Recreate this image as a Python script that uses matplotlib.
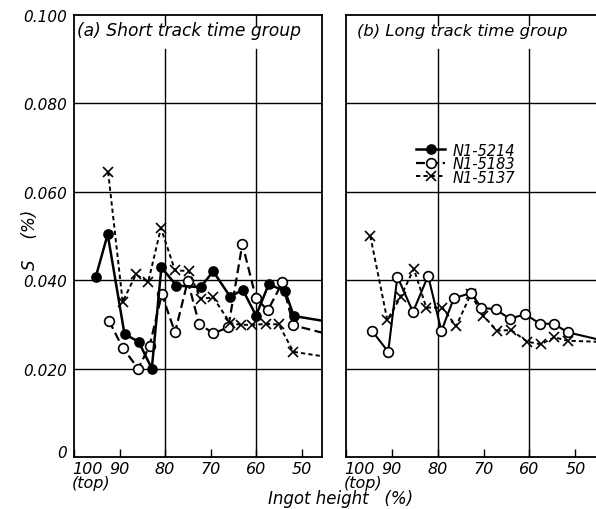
import matplotlib
matplotlib.use("Agg")
import matplotlib.pyplot as plt
from matplotlib.lines import Line2D
from matplotlib.legend_handler import HandlerLine2D
import matplotlib.transforms as mtransforms

# ---------------- data ----------------
# (a) Short track time group
h_a_5214 = [95.2, 92.6, 88.9, 85.8, 82.9, 80.8, 77.5, 72.2, 69.4, 65.7, 62.9, 60.0, 57.2, 53.6, 51.7, 43.5]
s_a_5214 = [0.0408, 0.0504, 0.0278, 0.0261, 0.0200, 0.0429, 0.0388, 0.0384, 0.0420, 0.0363, 0.0378, 0.0320, 0.0391, 0.0375, 0.0319, 0.0305]

h_a_5183 = [92.3, 89.3, 85.9, 83.4, 80.7, 77.8, 75.0, 72.5, 69.4, 66.1, 63.0, 60.0, 57.4, 54.2, 51.8, 43.5]
s_a_5183 = [0.0308, 0.0247, 0.0200, 0.0251, 0.0368, 0.0282, 0.0398, 0.0301, 0.0280, 0.0293, 0.0482, 0.0359, 0.0332, 0.0395, 0.0298, 0.0276]

h_a_5137 = [92.5, 89.3, 86.4, 83.7, 80.9, 77.8, 74.8, 72.2, 69.4, 65.7, 63.3, 60.8, 57.7, 55.0, 51.8, 43.5]
s_a_5137 = [0.0645, 0.0351, 0.0413, 0.0396, 0.0518, 0.0422, 0.0421, 0.0358, 0.0361, 0.0303, 0.0299, 0.0299, 0.0301, 0.0300, 0.0238, 0.0225]

# (b) Long track time group
h_b_5183 = [94.3, 90.8, 88.8, 85.4, 82.1, 79.2, 76.5, 72.8, 70.5, 67.4, 64.3, 60.9, 57.8, 54.7, 51.6, 43.0]
s_b_5183 = [0.0285, 0.0238, 0.0408, 0.0328, 0.0410, 0.0285, 0.0359, 0.0371, 0.0338, 0.0334, 0.0313, 0.0323, 0.0302, 0.0301, 0.0282, 0.0261]

h_b_5137 = [94.7, 91.0, 88.1, 85.2, 82.5, 79.0, 76.0, 72.8, 70.1, 67.1, 64.0, 60.5, 57.5, 54.6, 51.7, 43.0]
s_b_5137 = [0.0500, 0.0310, 0.0362, 0.0426, 0.0338, 0.0338, 0.0296, 0.0368, 0.0320, 0.0286, 0.0287, 0.0261, 0.0255, 0.0271, 0.0263, 0.0260]

series_names = ["N1-5214", "N1-5183", "N1-5137"]
x_ticks = [100, 90, 80, 70, 60, 50]
x_ticklabels = ["100\n(top)", "90", "80", "70", "60", "50"]
y_ticks = [0, 0.02, 0.04, 0.06, 0.08, 0.10]
y_ticklabels = ["0", "0.020", "0.040", "0.060", "0.080", "0.100"]
panel_titles = ["(a) Short track time group", "(b) Long track time group"]

# ---------------- styling ----------------
plt.rcParams['font.family'] = ['DejaVu Sans']
plt.rcParams['font.style'] = 'italic'

fig = plt.figure(figsize=(5.96, 5.10), dpi=100)
W, H = 596, 510
def ax_rect(x0, x1, ytop, ybot):
    return [x0 / W, (H - ybot) / H, (x1 - x0) / W, (ybot - ytop) / H]

axA = fig.add_axes(ax_rect(74, 322, 16, 458))
axB = fig.add_axes(ax_rect(346, 596, 16, 458))

st_5214 = dict(color='black', lw=1.8, ls='-', marker='o', ms=6.5,
               mfc='black', mec='black', mew=1.2)
st_5183 = dict(color='black', lw=1.6, marker='o', ms=7, mfc='white',
               mec='black', mew=1.2, dashes=(4, 2))
st_5137 = dict(color='black', lw=1.4, marker='x', ms=6.5, mew=1.2,
               dashes=(2.2, 1.6))

for ax in (axA, axB):
    ax.set_xlim(100, 45.5)
    ax.set_ylim(0, 0.100)
    for sp in ax.spines.values():
        sp.set_linewidth(1.3)
    for yv in y_ticks[1:-1]:
        ax.axhline(yv, color='black', lw=1.0, zorder=1)
    for xv in (80, 60):
        ax.axvline(xv, ymin=0, ymax=0.923, color='black', lw=1.0, zorder=1)
        ax.axvline(xv, ymin=0.978, ymax=1.0, color='black', lw=1.0, zorder=1)
    ax.set_xticks(x_ticks)
    ax.set_xticklabels(x_ticklabels, fontsize=11.5, style='italic',
                       linespacing=0.9)
    ax.tick_params(axis='x', direction='in', length=6, width=1.0, pad=3)
    ax.set_yticks(y_ticks)
    ax.tick_params(axis='y', length=0, pad=5)
    labs = ax.get_xticklabels()
    labs[0].set_horizontalalignment('left')
    labs[0].set_transform(labs[0].get_transform() +
                          mtransforms.ScaledTranslation(-2 / 100, 0, fig.dpi_scale_trans))

axA.set_yticklabels(y_ticklabels, fontsize=11, style='italic')
ylabs = axA.get_yticklabels()
ylabs[0].set_verticalalignment('baseline')
axB.set_yticklabels([])
axB.spines['right'].set_visible(False)

axA.plot(h_a_5214, s_a_5214, zorder=4, **st_5214)
axA.plot(h_a_5183, s_a_5183, zorder=3, **st_5183)
axA.plot(h_a_5137, s_a_5137, zorder=3, **st_5137)

st_b_5183 = dict(st_5183)
st_b_5183.pop('dashes')
st_b_5183['ls'] = '-'
st_b_5183['lw'] = 1.5
axB.plot(h_b_5183, s_b_5183, zorder=4, **st_b_5183)
axB.plot(h_b_5137, s_b_5137, zorder=3, **st_5137)

axA.text(0.012, 0.966, panel_titles[0], transform=axA.transAxes,
         fontsize=12.3, style='italic', va='center', ha='left')
axB.text(0.045, 0.966, panel_titles[1], transform=axB.transAxes,
         fontsize=11.8, style='italic', va='center', ha='left')

# legend with marker at left end of the line
class LeftMarker(HandlerLine2D):
    def get_xdata(self, legend, xdescent, ydescent, width, height, fontsize):
        return [-xdescent, -xdescent + width], [-xdescent]

handles = [Line2D([], [], **st_5214), Line2D([], [], **st_5183),
           Line2D([], [], **st_5137)]
leg = axB.legend(handles, series_names, loc='upper left',
                 bbox_to_anchor=(0.252, 0.728), frameon=False,
                 handlelength=2.0, handletextpad=0.5, labelspacing=-0.1,
                 borderpad=0, prop=dict(size=10.5, style='italic'),
                 handler_map={Line2D: LeftMarker(numpoints=1)})

fig.text(30 / W, (H - 240) / H, "S    (%)", rotation=90, fontsize=12,
         style='italic', ha='center', va='center')
fig.text(341 / W, (H - 499) / H, "Ingot height   (%)", fontsize=12,
         style='italic', ha='center', va='center')

fig.savefig("out.png", dpi=100)
